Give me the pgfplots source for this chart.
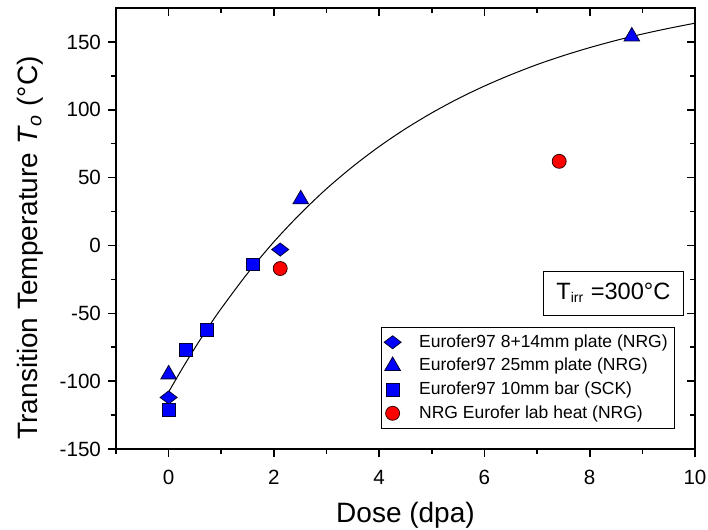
\documentclass[border=0pt]{standalone}
\usepackage{pgfplots}
\pgfplotsset{compat=1.18}
\usepackage{fontspec}
\setmainfont{Liberation Sans}
\definecolor{mblue}{RGB}{0,0,255}
\definecolor{mred}{RGB}{255,0,0}
\begin{document}
\begin{tikzpicture}
\pgfplotsset{
  common/.style={
    scale only axis, width=289.5pt, height=220.5pt,
    xmin=-1, xmax=10, ymin=-150, ymax=175,
    xtick={0,2,4,6,8,10}, minor xtick={-1,1,3,5,7,9},
    ytick={-150,-100,-50,0,50,100,150}, minor ytick={-125,-75,-25,25,75,125},
    major tick length=4pt, minor tick length=2.5pt,
    every tick/.style={black, line width=0.8pt},
    axis line style={line width=1pt},
    /pgf/number format/assume math mode=true,
    tick label style={font=\fontsize{10.3}{12}\selectfont},
  }
}
\begin{axis}[common, name=main,
  xtick pos=bottom, ytick pos=left, tick align=outside,
  xticklabel style={yshift=-3pt},
  xlabel={Dose (dpa)},
  ylabel={Transition Temperature \textit{T}\textsubscript{\textit{o}} (°C)},
  label style={font=\fontsize{14}{16}\selectfont},
  xlabel style={yshift=-2pt},
  ylabel style={at={(ticklabel cs:0.456)}, yshift=1.5pt},
  legend style={at={(rel axis cs:0.9655,0.2766)}, anchor=north east,
    draw=black, line width=0.4pt, font=\fontsize{8.75}{11}\selectfont,
    inner sep=1.5pt, row sep=0pt, cells={anchor=west}},
  legend cell align=left,
]
\addplot[black, line width=0.5pt, smooth, forget plot] coordinates {
(0,-108) (0.25,-91.3) (0.5,-75.5) (0.75,-60.5) (1,-46.4) (1.5,-20.5) (2,2.7)
(2.5,23.3) (3,41.8) (3.5,58.2) (4,72.9) (4.5,86.0) (5,97.7) (5.5,108.2)
(6,117.5) (6.5,125.8) (7,133.3) (7.5,139.9) (8,145.8) (8.5,151.1) (9,155.8)
(9.5,160.0) (10,163.8)};
\addplot[only marks, mark=diamond*, mark size=3.25pt,
  mark options={fill=mblue, draw=black!80!blue, line width=0.4pt, xscale=1.74}]
  coordinates {(0,-112) (2.12,-3)};
\addlegendentry{\hspace*{7pt}Eurofer97 8+14mm plate (NRG)}
\addplot[only marks, mark=triangle*, mark size=4.5pt,
  mark options={fill=mblue, draw=black!80!blue, line width=0.4pt}]
  coordinates {(0,-95) (2.51,34) (8.8,154)};
\addlegendentry{\hspace*{7pt}Eurofer97 25mm plate (NRG)}
\addplot[only marks, mark=square*, mark size=3.2pt,
  mark options={fill=mblue, draw=black!80!blue, line width=0.4pt}]
  coordinates {(0,-121) (0.33,-77) (0.73,-62) (1.6,-14)};
\addlegendentry{\hspace*{7pt}Eurofer97 10mm bar (SCK)}
\addplot[only marks, mark=*, mark size=3.5pt,
  mark options={fill=mred, draw=black!80!red, line width=0.4pt}]
  coordinates {(2.12,-17) (7.42,62)};
\addlegendentry{\hspace*{7pt}NRG Eurofer lab heat (NRG)}
\node[draw=black, line width=0.4pt, minimum width=70pt, minimum height=22pt,
  font=\fontsize{11.8}{14}\selectfont] at (axis cs:8.45,-35)
  {T\textsubscript{\fontsize{7}{8}\selectfont irr} =300°C};
\end{axis}
\begin{axis}[common,
  xtick pos=top, ytick pos=right, tick align=inside,
  xticklabels={}, yticklabels={},
]
\end{axis}
\pgfresetboundingbox
\path ([shift={(-58pt,-40.5pt)}]main.south west) rectangle ([shift={(6.5pt,4pt)}]main.north east);
\end{tikzpicture}
\end{document}
